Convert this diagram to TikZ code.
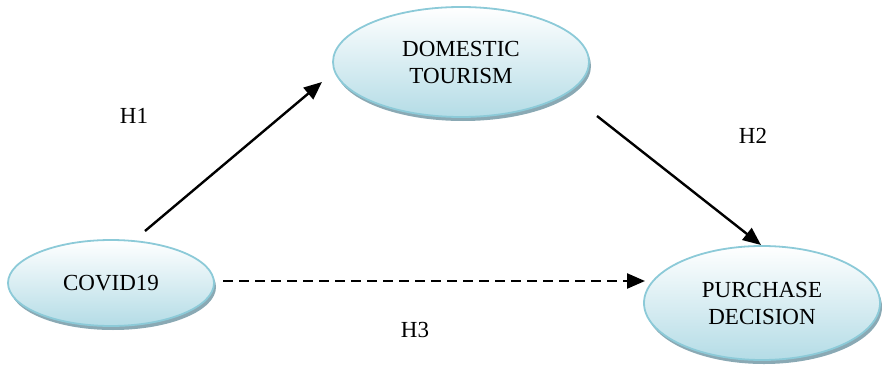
\documentclass[tikz,border=0pt]{standalone}
\usepackage{fontspec}
\setmainfont{Liberation Serif}
\usetikzlibrary{shapes.geometric,shadows,arrows.meta}
\definecolor{ellborder}{HTML}{8CCAD8}
\definecolor{ellfill}{HTML}{B4DCE6}
\definecolor{shadowc}{HTML}{8AA9B4}
\begin{document}
\begin{tikzpicture}[x=1pt,y=-1pt,
  ell/.style={ellipse, draw=ellborder, line width=1.8pt, top color=white, bottom color=ellfill,
    drop shadow={shadow xshift=2pt, shadow yshift=-4pt, fill=shadowc, opacity=1},
    font=\fontsize{23}{27}\selectfont, align=center, inner sep=0pt},
  arr/.style={line width=2.4pt, -{Triangle[length=18pt,width=15pt]}},
  lab/.style={font=\fontsize{23}{27}\selectfont}]
\useasboundingbox (0,0) rectangle (882,369);
\node[ell, minimum width=256pt, minimum height=110pt] (dom) at (461,62) {DOMESTIC\\TOURISM};
\node[ell, minimum width=206pt, minimum height=86pt] (cov) at (111,283) {COVID19};
\node[ell, minimum width=236pt, minimum height=114pt] (pur) at (762,303) {PURCHASE\\DECISION};
\coordinate (h1s) at (145,231);
\coordinate (h1e) at (322,82);
\coordinate (h2s) at (597,116);
\coordinate (h2e) at (761,245);
\coordinate (h3s) at (223,281);
\coordinate (h3e) at (645,281);
\draw[arr] (h1s) -- (h1e);
\draw[arr] (h2s) -- (h2e);
\draw[arr, dash pattern=on 10pt off 6pt] (h3s) -- (h3e);
\node[lab] (l1) at (134,116) {H1};
\node[lab] (l2) at (753,136) {H2};
\node[lab] (l3) at (415,330) {H3};
\end{tikzpicture}
\end{document}
